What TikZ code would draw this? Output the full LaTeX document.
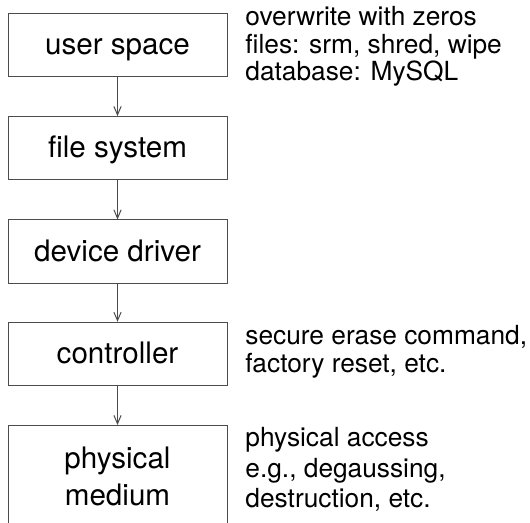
\documentclass[tikz,border=0pt]{standalone}
\usepackage{fontspec}
\setmainfont{TeX Gyre Heros}
\usetikzlibrary{arrows.meta}

\tikzset{
  layerbox/.style={draw=black!70, line width=0.5pt, minimum width=109.5pt,
    minimum height=31.7pt, inner sep=0pt, align=center,
    font=\fontsize{14.8}{18.5}\selectfont},
  layer/.style={layerbox, text height=10.5pt, text depth=1pt},
  note/.style={anchor=base west, inner sep=0pt, align=left},
  link/.style={draw=black!70, line width=0.5pt,
    -{Straight Barb[length=4.2pt,width=3.6pt]}}
}

\begin{document}
\begin{tikzpicture}[x=0.5pt, y=-0.5pt]
    % page size of the reference
    \useasboundingbox (0,0) rectangle (530,523);

    % storage layers, top to bottom
    \node[layer] (user) at (117.5,45) {user space};
    \node[layer] (fs) at (117.5,148.3) {file system};
    \node[layer] (driver) at (117.5,251.7) {device driver};
    \node[layer] (ctrl) at (117.5,354) {controller};
    \node[layerbox, minimum height=51pt, anchor=north] (medium) at (117.5,425)
        {physical\\medium};

    \draw[link] (user) -- (fs);
    \draw[link] (fs) -- (driver);
    \draw[link] (driver) -- (ctrl);
    \draw[link] (ctrl) -- (medium);

    % erase methods per layer (placed at the last baseline)
    \node[note, font=\fontsize{13.15}{13.75}\selectfont] (usernote) at (245,81)
        {overwrite with zeros\\files: srm, shred, wipe\\database: MySQL};
    \node[note, font=\fontsize{13.15}{14}\selectfont] (ctrlnote) at (245,373)
        {secure erase command,\\factory reset, etc.};
    \node[note, font=\fontsize{13.15}{15.5}\selectfont] (mediumnote) at (245,508)
        {physical access\\e.g., degaussing,\\destruction, etc.};
\end{tikzpicture}
\end{document}
